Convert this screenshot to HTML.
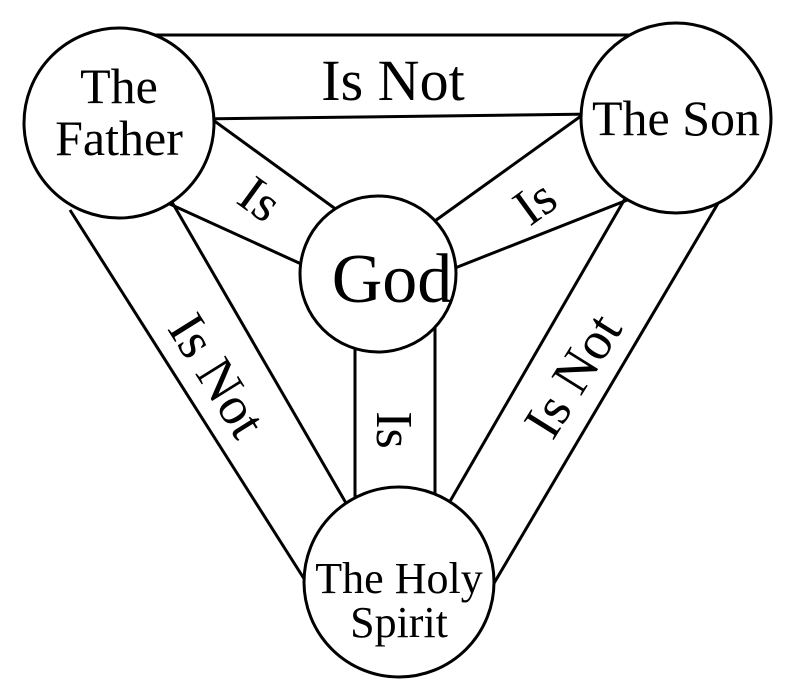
<!DOCTYPE html>
<html><head><style>
html,body{margin:0;padding:0;background:#fff;}
svg{display:block}
text{font-family:"Liberation Serif",serif;fill:#000;}
</style></head><body>
<svg width="809" height="698" viewBox="0 0 809 698">
<g stroke="#000" stroke-width="3" fill="none">
<line x1="119" y1="35" x2="676" y2="35"/>
<line x1="119" y1="120" x2="676" y2="113"/>
<line x1="180" y1="96" x2="370" y2="234"/>
<line x1="150" y1="195" x2="310" y2="268"/>
<line x1="620" y1="88" x2="400" y2="246"/>
<line x1="640" y1="195" x2="455" y2="268"/>
<line x1="355" y1="274" x2="355" y2="560"/>
<line x1="435" y1="274" x2="435" y2="560"/>
<line x1="70" y1="210" x2="308" y2="585"/>
<line x1="165" y1="190" x2="350" y2="510"/>
<line x1="720" y1="200" x2="490" y2="590"/>
<line x1="630" y1="190" x2="445" y2="510"/>
</g>
<g stroke="#000" stroke-width="3" fill="#fff">
<circle cx="119" cy="123" r="95"/>
<circle cx="676" cy="118" r="95"/>
<circle cx="378" cy="274" r="78"/>
<circle cx="399" cy="582" r="95"/>
</g>
<text x="393" y="100" font-size="58" text-anchor="middle">Is Not</text>
<text x="119" y="103" font-size="50" text-anchor="middle">The</text>
<text x="119" y="155" font-size="50" text-anchor="middle">Father</text>
<text x="676" y="135" font-size="50" text-anchor="middle">The Son</text>
<text x="392" y="302" font-size="70" text-anchor="middle">God</text>
<text x="399" y="593" font-size="44" text-anchor="middle">The Holy</text>
<text x="399" y="637" font-size="44" text-anchor="middle">Spirit</text>
<text font-size="52" text-anchor="middle" transform="translate(250,213) rotate(36)">Is</text>
<text font-size="52" text-anchor="middle" transform="translate(545,216) rotate(-36)">Is</text>
<text font-size="52" text-anchor="middle" transform="translate(377,430) rotate(90)">Is</text>
<text font-size="54" text-anchor="middle" transform="translate(202,385) rotate(58)">Is Not</text>
<text font-size="54" text-anchor="middle" transform="translate(588,385) rotate(-58)">Is Not</text>
</svg>
</body></html>
